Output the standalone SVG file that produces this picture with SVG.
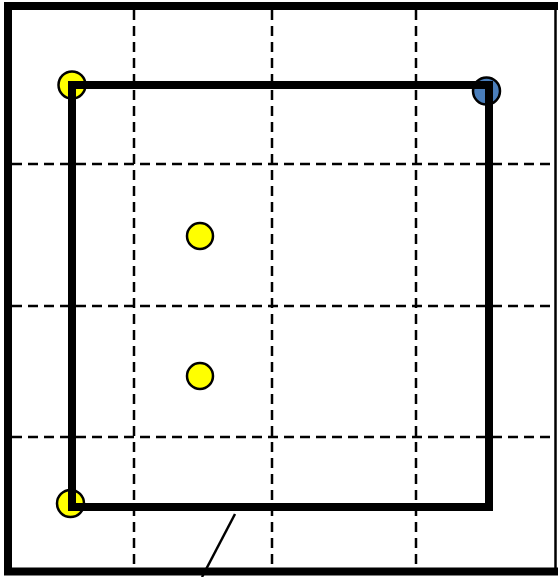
<svg xmlns="http://www.w3.org/2000/svg" width="558" height="577" viewBox="0 0 558 577">
<style>
.grid{stroke:#000;stroke-width:2.5;stroke-dasharray:10 6;fill:none}
.pt{stroke:#000;stroke-width:2.5}
.y{fill:#ffff00}
.b{fill:#4a7ebb}
</style>
<rect x="0" y="0" width="558" height="577" fill="#fff"/>
<g id="grid">
<line class="grid" x1="134" y1="10" x2="134" y2="567"/>
<line class="grid" x1="272" y1="10" x2="272" y2="567"/>
<line class="grid" x1="416" y1="10" x2="416" y2="567"/>
<line class="grid" x1="12" y1="164" x2="555" y2="164"/>
<line class="grid" x1="12" y1="306" x2="555" y2="306"/>
<line class="grid" x1="12" y1="437" x2="555" y2="437"/>
</g>
<g id="border">
<path d="M558 6H8V571.5H558" fill="none" stroke="#000" stroke-width="8"/>
<line x1="555.5" y1="6" x2="555.5" y2="571" stroke="#000" stroke-width="2.5"/>
</g>
<g id="p1"><circle class="pt y" cx="72" cy="85" r="13.5"/></g>
<g id="p2"><circle class="pt b" cx="486.5" cy="91" r="13.5"/></g>
<g id="p3"><circle class="pt y" cx="70.5" cy="503.5" r="13.5"/></g>
<g id="p4"><circle class="pt y" cx="200" cy="236" r="13"/></g>
<g id="p5"><circle class="pt y" cx="200" cy="376" r="13"/></g>
<g id="connectors">
<rect x="72" y="85" width="417" height="422" fill="none" stroke="#000" stroke-width="8"/>
<line x1="235" y1="514" x2="202" y2="577" stroke="#000" stroke-width="2.5"/>
</g>
</svg>
